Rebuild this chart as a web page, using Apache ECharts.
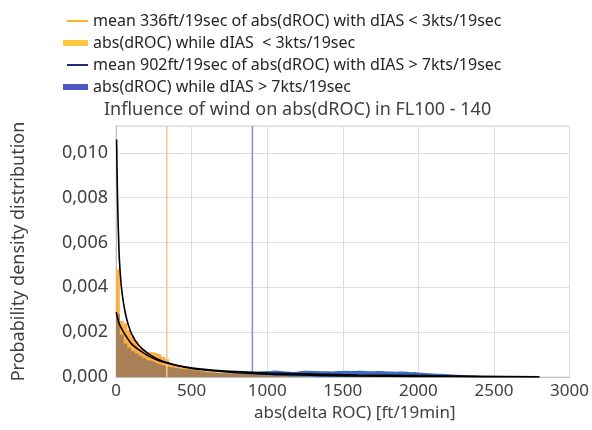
<!DOCTYPE html>
<html><head><meta charset="utf-8">
<script src="https://cdn.jsdelivr.net/npm/echarts@6/dist/echarts.min.js"></script>
<style>html,body{margin:0;padding:0;background:#fff}#c{width:592px;height:430px}</style>
</head><body><div id="c"></div>
<script>
// ---- data ----
const binWidth = 25; // ft per histogram bin, bins start at 0
const orangeDensity = [0.0048,0.0025,0.0024,0.0021,0.0018,0.0016,0.0013,0.0012,0.0011,0.0011,0.00105,0.001,0.0009,0.0008,0.0006,0.00052,0.00048,0.00044,0.0004,0.00036,0.00033,0.0003,0.00028,0.00026,0.00024,0.00022,0.0002,0.00019,0.00018,0.00017,0.00016,0.00015,0.00014,0.00013,0.00012,0.00011,0.0001,0.00009,0.00008,0.00007,0.00006,0.00005,0.00004,0.00003,0.00002,0.00001,0.00001,0.00001,0.00001,0.00001,0.00001,0.00001];
const blueDensity = [0.0028,0.0019,0.0015,0.0013,0.00115,0.00105,0.00095,0.00085,0.00075,0.00068,0.0006,0.00055,0.0005,0.00045,0.00042,0.0004,0.00037,0.00035,0.00033,0.00031,0.00028,0.00026,0.00024,0.00022,0.0002,0.00019,0.00018,0.00017,0.00017,0.00016,0.00016,0.00016,0.00017,0.00018,0.0002,0.00021,0.00023,0.00024,0.00026,0.00027,0.00027,0.00029,0.00028,0.00026,0.00024,0.00023,0.00022,0.00023,0.00027,0.00028,0.00028,0.00027,0.00027,0.00026,0.00026,0.00026,0.00025,0.00026,0.00027,0.00027,0.00028,0.00027,0.00027,0.00028,0.00028,0.00027,0.00026,0.00026,0.00027,0.00027,0.00026,0.00024,0.00025,0.00023,0.00024,0.00024,0.00023,0.00021,0.00022,0.0002,0.00019,0.00018,0.00017,0.00016,0.00015,0.00014,0.00013,0.00012,0.00011,0.0001,0.00009,0.00008,0.00007,0.00006,0.00005,0.00004,0.00003,0.00002];
const fitCalm = [[4,0.0106],[10,0.0080],[20,0.0056],[30,0.00445],[40,0.00375],[60,0.0029],[80,0.00236],[105,0.0019],[140,0.0015],[180,0.00122],[236,0.00094],[300,0.00072],[400,0.00052],[500,0.00038],[600,0.0003],[800,0.00019],[1000,0.00013],[1300,0.000075],[1600,0.000047],[2000,0.000027],[2400,0.000015],[2800,0.00001]];
const fitWindy = [[2,0.0029],[20,0.0024],[50,0.002],[100,0.0015],[150,0.00122],[220,0.00092],[280,0.00074],[350,0.0006],[430,0.00048],[600,0.00033],[800,0.00024],[1000,0.00018],[1300,0.00013],[1600,0.00009],[2000,0.00006],[2400,0.00003],[2800,0.00001]];
const meanCalm = 336, meanWindy = 902;
const yTop = 0.0112;
const names = {
  meanCalm: 'mean 336ft/19sec of abs(dROC) with dIAS < 3kts/19sec',
  histCalm: 'abs(dROC) while dIAS  < 3kts/19sec',
  meanWindy: 'mean 902ft/19sec of abs(dROC) with dIAS > 7kts/19sec',
  histWindy: 'abs(dROC) while dIAS > 7kts/19sec'
};

function hist(vals){ const d = vals.map((v,i)=>[i*binWidth, v]); d.push([vals.length*binWidth, 0]); return d; }
const overlap = blueDensity.map((v,i)=>Math.min(v, orangeDensity[i]||0));

const FONT = 'Noto Sans';
const chart = echarts.init(document.getElementById('c'));
const stepArea = (name, data, color, z) => ({
  name, type:'line', step:'end', data, symbol:'none', z,
  lineStyle:{width:0}, areaStyle:{color, opacity:1}, itemStyle:{color}, silent:true
});
chart.setOption({
  animation:false,
  textStyle:{fontFamily:FONT},
  title:{text:'Influence of wind on abs(dROC) in FL100 - 140', left:99, top:96,
    textStyle:{fontFamily:FONT, fontSize:18, fontWeight:'normal', color:'#404040'}},
  legend:[{
    left:62, top:6, orient:'vertical', itemWidth:21, itemHeight:2, itemGap:24, icon:'rect',
    textStyle:{fontFamily:FONT, fontSize:16, color:'#262626', lineHeight:20},
    data:[{name:names.meanCalm, itemStyle:{color:'#F5B62E'}},{name:names.meanWindy, itemStyle:{color:'#1F2C7A'}}]
  },{
    left:58, top:28, orient:'vertical', itemWidth:25, itemHeight:6, itemGap:24, icon:'rect',
    textStyle:{fontFamily:FONT, fontSize:16, color:'#262626', lineHeight:20},
    data:[{name:names.histCalm, itemStyle:{color:'#FFC640'}},{name:names.histWindy, itemStyle:{color:'#5054C4'}}]
  }],
  grid:{left:116, right:17, top:126, bottom:53, show:true, borderColor:'#D9D9D9', borderWidth:1},
  xAxis:{type:'value', min:0, max:3000, interval:500,
    name:'abs(delta ROC) [ft/19min]', nameLocation:'middle', nameGap:25,
    nameTextStyle:{fontFamily:FONT, fontSize:17, color:'#404040', padding:[0,0,0,24]},
    axisLine:{lineStyle:{color:'#BFBFBF'}}, axisTick:{show:false},
    axisLabel:{fontFamily:FONT, fontSize:17, color:'#404040', margin:6, formatter:v=>String(v)},
    splitLine:{lineStyle:{color:'#DDDDE5'}}},
  yAxis:{type:'value', min:0, max:yTop, interval:0.002,
    name:'Probability density distribution', nameLocation:'middle', nameGap:88,
    nameTextStyle:{fontFamily:FONT, fontSize:18, color:'#404040'},
    axisLine:{show:true, lineStyle:{color:'#BFBFBF'}}, axisTick:{show:false},
    axisLabel:{fontFamily:FONT, fontSize:18, color:'#404040', margin:8, showMaxLabel:false,
      formatter:v=>v.toFixed(3).replace('.',',')},
    splitLine:{lineStyle:{color:'#DDDDE5'}}},
  series:[
    stepArea(names.histWindy, hist(blueDensity), '#3A6CC6', 1),
    stepArea(names.histCalm, hist(orangeDensity), '#FDAF45', 2),
    stepArea('overlap', hist(overlap), '#A88056', 3),
    {name:names.meanCalm, type:'line', data:[[meanCalm,0],[meanCalm,yTop]], symbol:'none', z:4,
      lineStyle:{color:'#F8C68E', width:1.5}, itemStyle:{color:'#F8C68E'}},
    {name:names.meanWindy, type:'line', data:[[meanWindy,0],[meanWindy,yTop]], symbol:'none', z:4,
      lineStyle:{color:'#8C8CC8', width:1.5}, itemStyle:{color:'#8C8CC8'}},
    {name:'fit calm', type:'line', data:fitCalm, symbol:'none', smooth:0.3, z:5, lineStyle:{color:'#000', width:1.6}},
    {name:'fit windy', type:'line', data:fitWindy, symbol:'none', smooth:0.3, z:5, lineStyle:{color:'#000', width:1.6}}
  ]
});
</script></body></html>
